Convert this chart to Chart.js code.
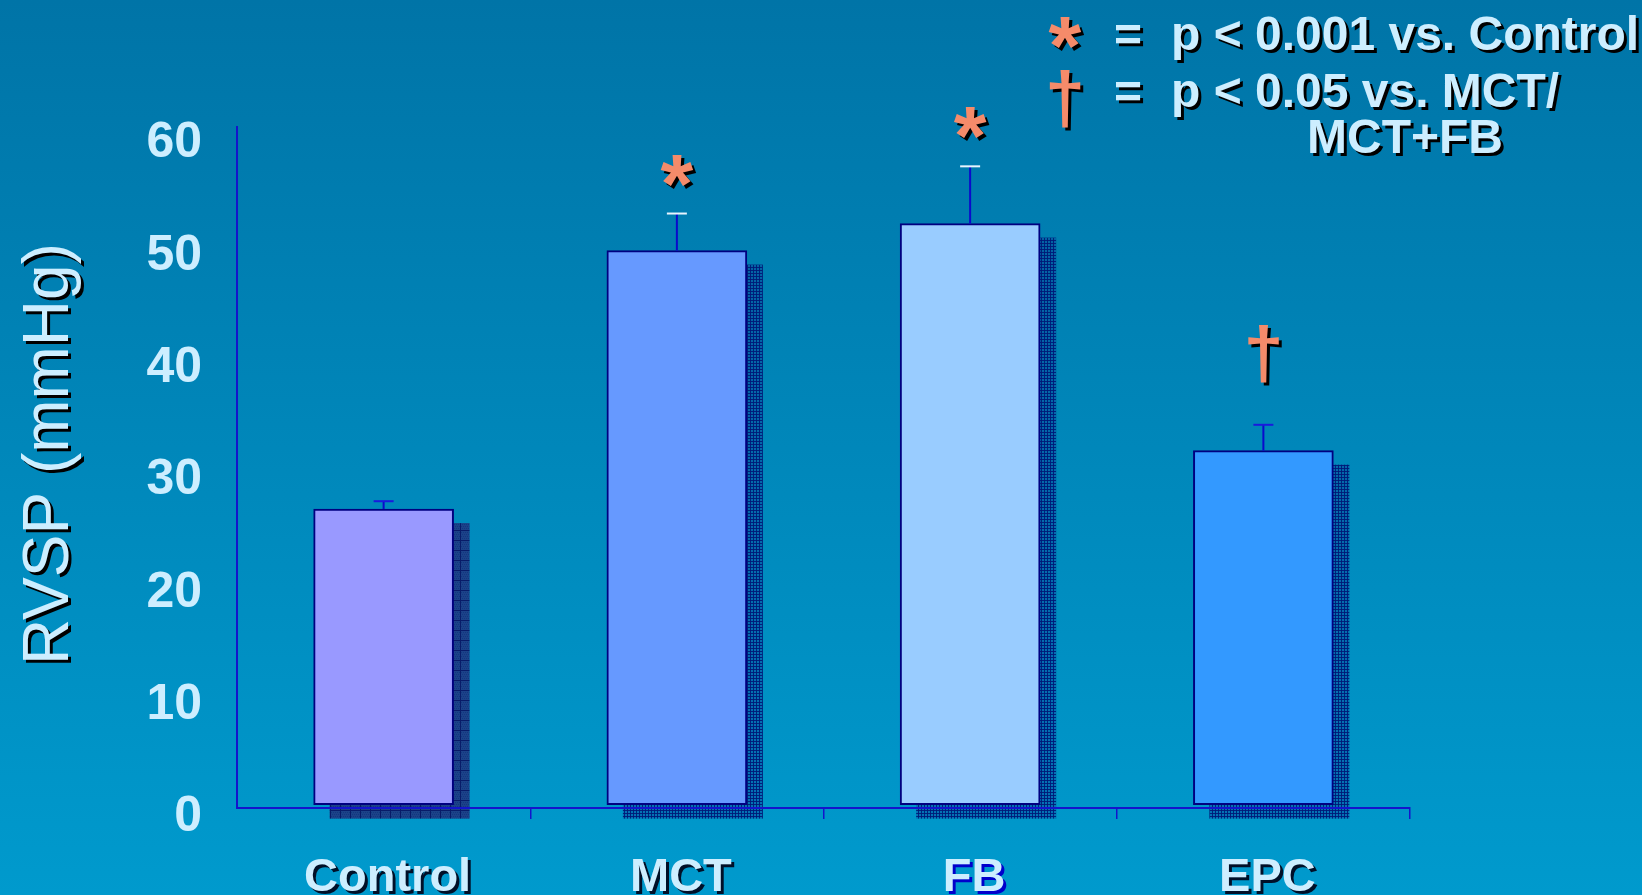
<!DOCTYPE html>
<html>
<head>
<meta charset="utf-8">
<script src="https://cdn.jsdelivr.net/npm/chart.js@4.4.1/dist/chart.umd.min.js"></script>
<style>
  html, body { margin: 0; padding: 0; }
  body {
    width: 1642px; height: 895px; overflow: hidden;
    background: linear-gradient(to bottom, #0074A7 0%, #0087BA 50%, #009ACD 100%);
  }
  #wrap { position: relative; width: 1642px; height: 895px; }
</style>
</head>
<body>
<div id="wrap"><canvas id="c"></canvas></div>
<script>
// Right ventricular systolic pressure by group (mean and error)
const groups   = ['Control', 'MCT', 'FB', 'EPC'];
const rvsp     = [26.3, 49.3, 51.7, 31.5];
const rvspErr  = [0.7, 3.3, 5.1, 2.3];
const sigMarks = ['', '*', '*', '\u2020'];
const yTicks   = [0, 10, 20, 30, 40, 50, 60];
const yTitle   = 'RVSP (mmHg)';

// significance key
const keySymbols = ['*', '\u2020'];
const keyLines   = [['p < 0.001 vs. Control'], ['p < 0.05 vs. MCT/', 'MCT+FB']];

// styling
const barFills     = ['#9999FF', '#6699FF', '#99CCFF', '#3399FF'];
const capColors    = ['#1A1ADD', '#E8F4FF', '#E8F4FF', '#1A1ADD'];
const shadowKinds  = ['coarse', 'fine', 'fine', 'fine'];
const labelShadows = ['#001028', '#001028', '#0000CC', '#001028'];
const TEXT = '#CDEEFF';
const SALMON = '#F58B6A';
const AXIS = '#1414CC';
const FONT = "'Liberation Sans', Arial, sans-serif";

function makePattern(kind) {
  const c = document.createElement('canvas');
  const g = c.getContext('2d');
  if (kind === 'coarse') {
    c.width = 10; c.height = 10;
    g.fillStyle = '#1C4289'; g.fillRect(0, 0, 10, 10);
    g.fillStyle = '#12377F';
    for (let y = 0; y < 10; y += 2) for (let x = (y / 2) % 2; x < 10; x += 2) g.fillRect(x, y, 1, 1);
    g.fillStyle = '#081B68';
    g.fillRect(0, 0, 10, 1); g.fillRect(0, 0, 1, 10);
  } else {
    c.width = 3; c.height = 3;
    g.fillStyle = 'rgba(10,50,140,0.35)'; g.fillRect(0, 0, 3, 3);
    g.fillStyle = 'rgba(0,25,120,0.9)';
    g.fillRect(0, 0, 3, 1); g.fillRect(0, 0, 1, 3);
  }
  return c;
}

function glyphAt(ctx, txt, cx, cy, font, color, shadow, off) {
  ctx.save();
  ctx.font = font;
  ctx.textAlign = 'left';
  ctx.textBaseline = 'alphabetic';
  const m = ctx.measureText(txt);
  const x = cx - (m.actualBoundingBoxRight - m.actualBoundingBoxLeft) / 2;
  const y = cy - (m.actualBoundingBoxDescent - m.actualBoundingBoxAscent) / 2;
  ctx.shadowColor = shadow; ctx.shadowOffsetX = off; ctx.shadowOffsetY = off; ctx.shadowBlur = 0;
  ctx.fillStyle = color;
  ctx.fillText(txt, x, y);
  ctx.restore();
  return m;
}

function glyphHeight(ctx, txt, font) {
  ctx.save(); ctx.font = font;
  const m = ctx.measureText(txt);
  ctx.restore();
  return m.actualBoundingBoxAscent + m.actualBoundingBoxDescent;
}

function shadowText(ctx, txt, x, y, font, align, shadow, off) {
  ctx.save();
  ctx.font = font; ctx.textAlign = align; ctx.textBaseline = 'alphabetic';
  ctx.shadowColor = shadow; ctx.shadowOffsetX = off; ctx.shadowOffsetY = off; ctx.shadowBlur = 0;
  ctx.fillStyle = TEXT;
  ctx.fillText(txt, x, y);
  ctx.restore();
}

const SH_DX = 16, SH_DY = 14;
const ASTER_FONT = 'bold 84px ' + FONT;
const DAGGER_FONT = 'bold 72px ' + FONT;

const decorations = {
  id: 'decorations',
  beforeDraw(chart) {
    // hatched drop shadows behind the bars
    const ctx = chart.ctx;
    if (!chart.$patterns) {
      chart.$patterns = {
        coarse: ctx.createPattern(makePattern('coarse'), 'repeat'),
        fine: ctx.createPattern(makePattern('fine'), 'repeat')
      };
    }
    chart.getDatasetMeta(0).data.forEach((bar, i) => {
      const p = bar.getProps(['x', 'y', 'base', 'width'], true);
      ctx.save();
      ctx.fillStyle = chart.$patterns[shadowKinds[i]];
      ctx.fillRect(p.x - p.width / 2 + SH_DX, p.y + SH_DY, p.width, p.base - p.y);
      ctx.restore();
    });
  },
  afterDatasetsDraw(chart) {
    const ctx = chart.ctx;
    const ys = chart.scales.y;
    chart.getDatasetMeta(0).data.forEach((bar, i) => {
      const p = bar.getProps(['x', 'y'], true);
      const top = ys.getPixelForValue(rvsp[i] + rvspErr[i]);
      ctx.save();
      ctx.lineWidth = 2;
      ctx.strokeStyle = '#0A0ACC';
      ctx.beginPath(); ctx.moveTo(p.x, p.y); ctx.lineTo(p.x, top); ctx.stroke();
      ctx.strokeStyle = capColors[i];
      ctx.beginPath(); ctx.moveTo(p.x - 10, top); ctx.lineTo(p.x + 10, top); ctx.stroke();
      ctx.restore();
      if (sigMarks[i]) {
        const font = sigMarks[i] === '*' ? ASTER_FONT : DAGGER_FONT;
        const h = glyphHeight(ctx, sigMarks[i], font);
        const gap = sigMarks[i] === '*' ? 27 : 42;
        glyphAt(ctx, sigMarks[i], p.x, top - gap - h / 2, font, SALMON, '#000000', 3);
      }
    });
  },
  afterDraw(chart) {
    const ctx = chart.ctx;
    const xs = chart.scales.x;
    // category labels
    groups.forEach((g, i) => {
      shadowText(ctx, g, xs.getPixelForTick(i) + 4, 891, 'bold 47px ' + FONT, 'center', labelShadows[i], 3);
    });
    // axis title
    ctx.save();
    ctx.translate(68, 454);
    ctx.rotate(-Math.PI / 2);
    ctx.font = '64px ' + FONT; ctx.textAlign = 'center'; ctx.textBaseline = 'alphabetic';
    ctx.shadowColor = '#000000'; ctx.shadowOffsetX = 3; ctx.shadowOffsetY = 3; ctx.shadowBlur = 0;
    ctx.fillStyle = TEXT;
    ctx.fillText(yTitle, 0, 0);
    ctx.restore();
    // significance key
    const rowBase = [50, 107];
    const symY = [33, 99];
    keySymbols.forEach((s, r) => {
      glyphAt(ctx, s, 1065, symY[r], s === '*' ? ASTER_FONT : DAGGER_FONT, SALMON, '#000000', 3);
      shadowText(ctx, '=', 1128, rowBase[r] + 1, 'bold 48px ' + FONT, 'center', '#000000', 3);
      keyLines[r].forEach((t, k) => {
        shadowText(ctx, t, k === 0 ? 1171 : 1307, rowBase[r] + k * 46, 'bold 48px ' + FONT, 'left', '#000000', 3);
      });
    });
  }
};

new Chart(document.getElementById('c'), {
  type: 'bar',
  data: {
    labels: groups,
    datasets: [{
      data: rvsp,
      backgroundColor: barFills,
      borderColor: '#000080',
      borderWidth: 2,
      borderSkipped: false,
      barThickness: 140
    }]
  },
  options: {
    responsive: true,
    maintainAspectRatio: false,
    animation: false,
    devicePixelRatio: 1,
    layout: { padding: { left: 0, right: 232, top: 127, bottom: 0 } },
    plugins: { legend: { display: false }, tooltip: { enabled: false } },
    scales: {
      x: {
        type: 'category',
        offset: true,
        afterFit: s => { s.height = 87; },
        grid: {
          display: true, drawOnChartArea: false, drawTicks: true, tickLength: 11,
          offset: true, lineWidth: 1.5,
          color: c => (c.index === 0 ? 'rgba(0,0,0,0)' : AXIS)
        },
        border: { display: true, color: AXIS, width: 2 },
        ticks: { display: false }
      },
      y: {
        min: -0.3,
        max: 60.3,
        afterBuildTicks: s => { s.ticks = yTicks.map(v => ({ value: v })); },
        afterFit: s => { s.width = 237; },
        grid: { display: false, drawTicks: false },
        border: { display: true, color: AXIS, width: 2 },
        ticks: {
          padding: 35,
          labelOffset: 13,
          color: TEXT,
          font: { family: FONT, size: 50, weight: 'bold' }
        }
      }
    }
  },
  plugins: [decorations]
});
</script>
</body>
</html>
